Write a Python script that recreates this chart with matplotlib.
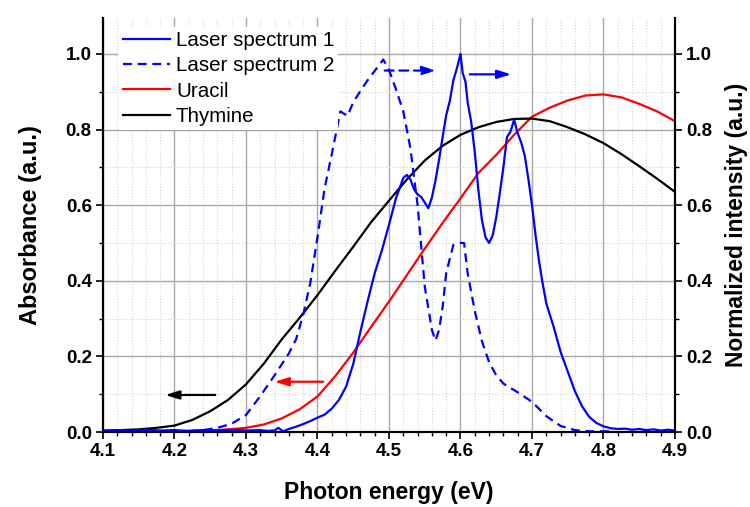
import numpy as np
import matplotlib
matplotlib.use('Agg')
import matplotlib.pyplot as plt
from matplotlib.ticker import MultipleLocator, FormatStrFormatter

plt.rcParams['font.family'] = ['Liberation Sans', 'DejaVu Sans']

# absorbance curves (left axis)
abs_energy = [4.100, 4.125, 4.150, 4.175, 4.200, 4.225, 4.250, 4.275, 4.300, 4.325,
              4.350, 4.375, 4.400, 4.425, 4.450, 4.475, 4.500, 4.525, 4.550, 4.575,
              4.600, 4.625, 4.650, 4.675, 4.700, 4.725, 4.750, 4.775, 4.800, 4.825,
              4.850, 4.875, 4.900]
thymine = [0.003, 0.005, 0.007, 0.011, 0.017, 0.032, 0.055, 0.085, 0.126, 0.181,
           0.245, 0.302, 0.362, 0.427, 0.490, 0.555, 0.612, 0.668, 0.718, 0.757,
           0.786, 0.806, 0.820, 0.828, 0.829, 0.822, 0.806, 0.787, 0.764, 0.735,
           0.703, 0.670, 0.635]
uracil = [0.000, 0.001, 0.001, 0.002, 0.002, 0.003, 0.004, 0.007, 0.011, 0.020,
          0.036, 0.060, 0.094, 0.148, 0.210, 0.278, 0.345, 0.415, 0.485, 0.553,
          0.618, 0.685, 0.733, 0.786, 0.834, 0.858, 0.877, 0.890, 0.893, 0.885,
          0.868, 0.848, 0.822]

# laser spectra (right axis)
laser1_energy = [4.10, 4.12, 4.14, 4.16, 4.18, 4.20, 4.22, 4.24, 4.26, 4.28,
                 4.30, 4.32, 4.33, 4.34, 4.345, 4.352, 4.36, 4.37, 4.38, 4.39,
                 4.40, 4.41, 4.42, 4.43, 4.44, 4.45, 4.46, 4.47, 4.48, 4.49,
                 4.50, 4.51, 4.515, 4.52, 4.525, 4.53, 4.535, 4.54, 4.545, 4.55,
                 4.555, 4.56, 4.565, 4.57, 4.575, 4.58, 4.585, 4.59, 4.595, 4.60,
                 4.603, 4.607, 4.61, 4.615, 4.62, 4.625, 4.63, 4.635, 4.64, 4.645,
                 4.65, 4.655, 4.66, 4.665, 4.67, 4.675, 4.68, 4.685, 4.69, 4.695,
                 4.70, 4.705, 4.71, 4.715, 4.72, 4.73, 4.74, 4.75, 4.76, 4.77,
                 4.78, 4.79, 4.80, 4.81, 4.82, 4.83, 4.84, 4.85, 4.86, 4.87,
                 4.88, 4.89, 4.90]
laser1 = [0.004, 0.005, 0.003, 0.006, 0.004, 0.005, 0.003, 0.005, 0.004, 0.006,
          0.004, 0.005, 0.003, 0.004, 0.011, 0.002, 0.008, 0.014, 0.021, 0.029,
          0.038, 0.046, 0.062, 0.085, 0.120, 0.180, 0.265, 0.345, 0.420, 0.480,
          0.548, 0.620, 0.645, 0.672, 0.680, 0.668, 0.642, 0.628, 0.622, 0.607,
          0.592, 0.620, 0.665, 0.720, 0.780, 0.838, 0.875, 0.930, 0.962, 1.000,
          0.950, 0.926, 0.872, 0.820, 0.740, 0.640, 0.560, 0.515, 0.500, 0.520,
          0.568, 0.632, 0.700, 0.780, 0.795, 0.826, 0.790, 0.765, 0.730, 0.668,
          0.600, 0.520, 0.450, 0.392, 0.340, 0.280, 0.212, 0.160, 0.108, 0.068,
          0.040, 0.024, 0.015, 0.010, 0.008, 0.009, 0.006, 0.008, 0.005, 0.007,
          0.004, 0.006, 0.004]
laser2_energy = [4.20, 4.22, 4.24, 4.26, 4.28, 4.30, 4.32, 4.34, 4.36, 4.37,
                 4.38, 4.39, 4.40, 4.41, 4.42, 4.432, 4.442, 4.45, 4.46, 4.47,
                 4.48, 4.492, 4.50, 4.51, 4.52, 4.53, 4.54, 4.55, 4.56, 4.565,
                 4.57, 4.575, 4.58, 4.59, 4.60, 4.605, 4.61, 4.62, 4.63, 4.64,
                 4.65, 4.66, 4.68, 4.70, 4.72, 4.74, 4.76, 4.78, 4.81]
laser2 = [0.000, 0.002, 0.005, 0.011, 0.022, 0.045, 0.095, 0.150, 0.208, 0.245,
          0.310, 0.395, 0.515, 0.645, 0.735, 0.848, 0.836, 0.872, 0.902, 0.930,
          0.955, 0.985, 0.958, 0.905, 0.848, 0.750, 0.600, 0.385, 0.270, 0.242,
          0.270, 0.330, 0.420, 0.495, 0.500, 0.500, 0.420, 0.320, 0.240, 0.185,
          0.150, 0.128, 0.105, 0.080, 0.042, 0.016, 0.005, 0.002, 0.002]

# arrows: (tail x, head x, y)
arrow_thymine = (4.257, 4.187, 0.098)
arrow_uracil = (4.408, 4.340, 0.133)
arrow_laser2 = (4.494, 4.566, 0.956)
arrow_laser1 = (4.613, 4.671, 0.946)

blue = '#0000ff'
red = '#ff0000'

fig = plt.figure(figsize=(7.5, 5.07), dpi=100)
ax = fig.add_axes([0.1373, 0.1479, 0.7627, 0.8166])
ax2 = ax.twinx()

l_ur, = ax.plot(abs_energy, uracil, color=red, lw=1.6, label='Uracil')
l_th, = ax.plot(abs_energy, thymine, color='black', lw=1.6, label='Thymine')
l_l1, = ax2.plot(laser1_energy, laser1, color=blue, lw=1.6, label='Laser spectrum 1')
l_l2, = ax2.plot(laser2_energy, laser2, color=blue, lw=1.6, dashes=(4, 2.6),
                 label='Laser spectrum 2')

def arrow(a, x0, x1, y, color, ls='-'):
    a.annotate('', xy=(x1, y), xytext=(x0, y),
               arrowprops=dict(arrowstyle='-|>,head_length=0.55,head_width=0.17',
                               color=color, lw=1.6, linestyle=ls,
                               mutation_scale=15, shrinkA=0, shrinkB=0))

arrow(ax, *arrow_thymine, 'black')
arrow(ax, *arrow_uracil, red)
arrow(ax2, *arrow_laser2, blue, ls=(0, (4, 2.6)))
arrow(ax2, *arrow_laser1, blue)

for a in (ax, ax2):
    a.set_xlim(4.1, 4.9)
    a.set_ylim(0, 1.095)
    a.yaxis.set_major_locator(MultipleLocator(0.2))
    a.yaxis.set_minor_locator(MultipleLocator(0.1))
    a.yaxis.set_major_formatter(FormatStrFormatter('%.1f'))
    a.spines['top'].set_visible(False)
    for s in a.spines.values():
        s.set_linewidth(1.5)
    a.tick_params(which='major', direction='out', length=5, width=1.2,
                  labelsize=13.5, pad=3)
    a.tick_params(which='minor', direction='out', length=3, width=1.0)
    for t in a.get_xticklabels() + a.get_yticklabels():
        t.set_fontweight('bold')

ax.xaxis.set_major_locator(MultipleLocator(0.1))
ax.xaxis.set_minor_locator(MultipleLocator(0.02))
ax.xaxis.set_major_formatter(FormatStrFormatter('%.1f'))
for t in ax.get_xticklabels():
    t.set_fontweight('bold')

ax.grid(True, which='major', color='#a8a8a8', lw=1.0)
ax.grid(True, which='minor', color='#d4d4d4', lw=0.8, linestyle=':')
ax.set_axisbelow(True)

ax.set_xlabel('Photon energy (eV)', fontsize=16.5, fontweight='bold', labelpad=15)
ax.set_ylabel('Absorbance (a.u.)', fontsize=17, fontweight='bold', labelpad=17)
ax2.set_ylabel('Normalized intensity (a.u.)', fontsize=16.5, fontweight='bold',
               labelpad=9)

leg = ax2.legend(handles=[l_l1, l_l2, l_ur, l_th], loc='upper left',
                 bbox_to_anchor=(0.027, 0.978), fontsize=14.8, frameon=True,
                 handlelength=2.3, handletextpad=0.3, labelspacing=0.3,
                 borderpad=0.2, borderaxespad=0)
leg.get_frame().set_facecolor('white')
leg.get_frame().set_edgecolor('none')
leg.get_frame().set_alpha(1)

fig.savefig('out.png', dpi=100)
